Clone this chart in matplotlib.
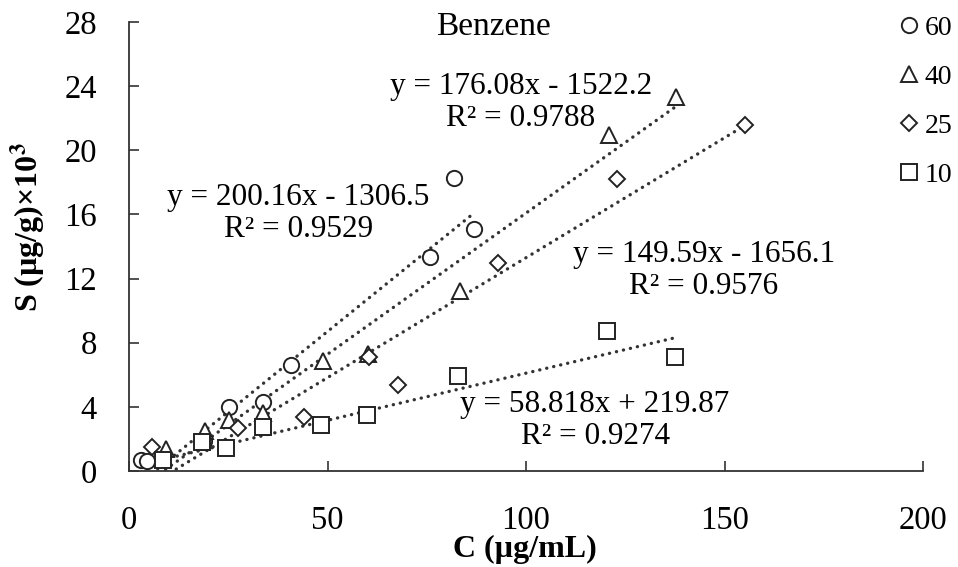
import matplotlib.pyplot as plt
import numpy as np

plt.rcParams['font.family'] = ['Liberation Serif', 'DejaVu Serif']
plt.rcParams['mathtext.fontset'] = 'stix'

# C (ug/mL) vs S (ug/g, x10^3) for each temperature series
labels = ['60', '40', '25', '10']
markers = ['o', '^', 'D', 's']
msizes = [11, 11, 8, 11]

x_60 = [3.0, 4.5, 19.0, 25.2, 33.8, 40.7, 75.8, 81.9, 86.9]
y_60 = [0.70, 0.60, 1.90, 4.00, 4.30, 6.60, 13.36, 18.30, 15.07]

x_40 = [9.2, 19.1, 25.2, 33.8, 48.8, 60.2, 83.4, 121.0, 137.9]
y_40 = [1.40, 2.50, 3.20, 3.60, 6.85, 7.30, 11.25, 20.95, 23.30]

x_25 = [5.7, 27.5, 44.1, 60.5, 67.8, 93.0, 123.0, 155.2]
y_25 = [1.50, 2.70, 3.37, 7.10, 5.36, 13.00, 18.20, 21.60]

x_10 = [8.6, 18.4, 24.4, 33.8, 48.3, 59.9, 82.8, 120.5, 137.5]
y_10 = [0.70, 1.80, 1.43, 2.75, 2.87, 3.49, 5.90, 8.75, 7.13]

# linear trendlines, y in ug/g
slopes = [200.16, 176.08, 149.59, 58.818]
intercepts = [-1306.5, -1522.2, -1656.1, 219.87]
r2 = [0.9529, 0.9788, 0.9576, 0.9274]

xs = [x_60, x_40, x_25, x_10]
ys = [y_60, y_40, y_25, y_10]

fig = plt.figure(figsize=(9.58, 5.67), dpi=100)
ax = fig.add_axes([0.1347, 0.1693, 0.8288, 0.7919])

handles = []
for x, y, m, ms, lab in zip(xs, ys, markers, msizes, labels):
    h, = ax.plot(x, y, linestyle='none', marker=m, markersize=ms,
                 markerfacecolor='white', markeredgecolor='#222222',
                 markeredgewidth=1.4, label=lab, clip_on=False, zorder=3)
    handles.append(h)

for x, k, b in zip(xs, slopes, intercepts):
    xl = np.array([min(x), max(x)])
    yl = (k * xl + b) / 1000.0
    ax.plot(xl, yl, linestyle=(0, (0.05, 2.1)), color='#333333', lw=2.4,
            dash_capstyle='round', zorder=2)

# equation labels
eq_pos = [(42.6, 16.05), (98.7, 22.97), (144.8, 12.5), (117.4, 3.15)]
for (tx, ty), k, b, r in zip(eq_pos, slopes, intercepts, r2):
    sign = '-' if b < 0 else '+'
    s = 'y = {}x {} {}\nR² = {}'.format(k, sign, abs(b), r)
    ax.text(tx, ty, s, ha='center', va='center', multialignment='center',
            fontsize=22.5, linespacing=1.12, zorder=4)

ax.text(91.7, 27.7, 'Benzene', ha='center', va='center', fontsize=24)

ax.set_xlim(0, 200)
ax.set_ylim(0, 28)
ax.set_xticks([0, 50, 100, 150, 200])
ax.set_yticks(np.arange(0, 29, 4))

for side in ['top', 'right']:
    ax.spines[side].set_visible(False)
for side in ['left', 'bottom']:
    ax.spines[side].set_linewidth(1.3)
    ax.spines[side].set_color('#333333')

ax.tick_params(axis='x', direction='in', length=7, width=1.2,
               color='#333333', pad=25, labelsize=23.5)
ax.tick_params(axis='y', direction='in', length=7, width=1.2,
               color='#333333', pad=23, labelsize=23.5)

ax.set_xlabel('C (µg/mL)', fontsize=23, fontweight='bold')
ax.xaxis.set_label_coords(0.4987, -0.142)
ax.set_ylabel('S (µg/g)×10$^{\\mathbf{3}}$', fontsize=23, fontweight='bold')
ax.yaxis.set_label_coords(-0.102, 0.543)

fig.legend(handles=handles, loc='upper left',
           bbox_to_anchor=(0.926, 0.993), frameon=False, fontsize=20,
           handlelength=0.8, handletextpad=0.15, labelspacing=0.85,
           borderaxespad=0)

fig.savefig('out.png', dpi=100)
